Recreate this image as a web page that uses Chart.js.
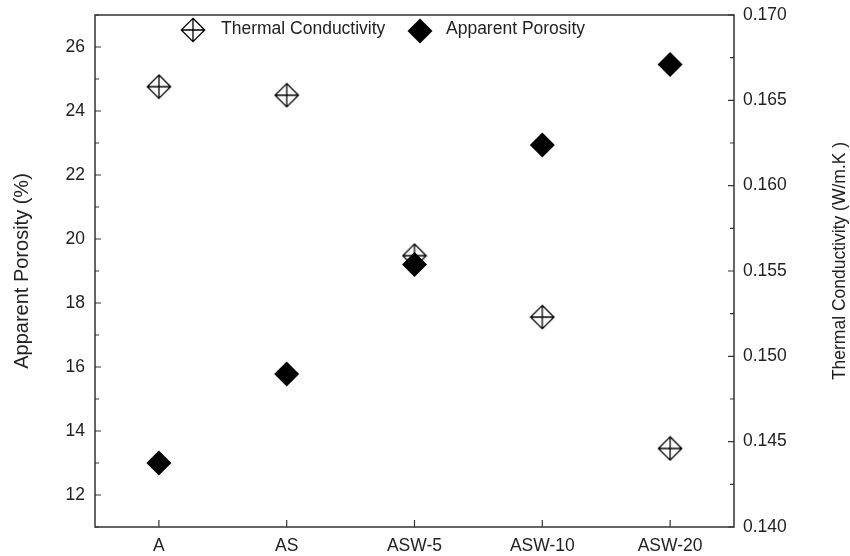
<!DOCTYPE html>
<html>
<head>
<meta charset="utf-8">
<script src="https://cdn.jsdelivr.net/npm/chart.js@4/dist/chart.umd.min.js"></script>
<style>
  html, body { margin: 0; padding: 0; background: #fff; }
  #wrap { width: 850px; height: 556px; }
</style>
</head>
<body>
<div id="wrap"><canvas id="c" width="850" height="556"></canvas></div>
<script>
// ---- data ----
const categories = ['A', 'AS', 'ASW-5', 'ASW-10', 'ASW-20'];
const apparentPorosity = [13.0, 15.78, 19.2, 22.94, 25.45];
const thermalConductivity = [0.1658, 0.1653, 0.1559, 0.1523, 0.1446];
const leftTicks = [12, 14, 16, 18, 20, 22, 24, 26];
const rightTicks = [0.140, 0.145, 0.150, 0.155, 0.160, 0.165, 0.170];
const leftTitle = 'Apparent Porosity (%)';
const rightTitle = 'Thermal Conductivity (W/m.K )';
const seriesNames = ['Thermal Conductivity', 'Apparent Porosity'];

const FONT = "'Liberation Sans', Arial, sans-serif";
const TXT = '#222';
const AXC = '#333';

function crossDiamond(size, lw) {
  const c = document.createElement('canvas');
  c.width = size; c.height = size;
  const g = c.getContext('2d');
  const h = size / 2, m = lw;
  g.strokeStyle = '#000';
  g.lineWidth = lw;
  g.beginPath();
  g.moveTo(h, m); g.lineTo(size - m, h); g.lineTo(h, size - m); g.lineTo(m, h); g.closePath();
  g.moveTo(m, h); g.lineTo(size - m, h);
  g.moveTo(h, m); g.lineTo(h, size - m);
  g.stroke();
  return c;
}
const openMarker = crossDiamond(26, 1.3);

const framePlugin = {
  id: 'frame',
  afterDraw(chart) {
    const { ctx, chartArea: a, scales } = chart;
    ctx.save();
    ctx.strokeStyle = AXC;
    ctx.lineWidth = 1.5;
    ctx.strokeRect(a.left, a.top, a.right - a.left, a.bottom - a.top);
    ctx.lineWidth = 1.2;
    ctx.beginPath();
    const yl = scales.y;
    leftTicks.forEach((v) => {
      const p = yl.getPixelForValue(v);
      ctx.moveTo(a.left, p); ctx.lineTo(a.left + 6, p);
    });
    for (let v = leftTicks[0] - 1; v <= 27; v += 2) {
      const p = yl.getPixelForValue(v);
      ctx.moveTo(a.left, p); ctx.lineTo(a.left + 4, p);
    }
    const yr = scales.y1;
    rightTicks.forEach((v, i) => {
      const p = yr.getPixelForValue(v);
      ctx.moveTo(a.right, p); ctx.lineTo(a.right - 6, p);
      if (i < rightTicks.length - 1) {
        const pm = yr.getPixelForValue((v + rightTicks[i + 1]) / 2);
        ctx.moveTo(a.right, pm); ctx.lineTo(a.right - 4, pm);
      }
    });
    const xs = scales.x;
    categories.forEach((c, i) => {
      const p = xs.getPixelForValue(i);
      ctx.moveTo(p, a.bottom); ctx.lineTo(p, a.bottom - 7);
    });
    ctx.stroke();

    // axis titles
    ctx.fillStyle = TXT;
    ctx.textAlign = 'center';
    ctx.textBaseline = 'middle';
    ctx.font = '20px ' + FONT;
    ctx.save();
    ctx.translate(22, (a.top + a.bottom) / 2);
    ctx.rotate(-Math.PI / 2);
    ctx.fillText(leftTitle, 0, 0);
    ctx.restore();
    ctx.font = '17.5px ' + FONT;
    ctx.save();
    ctx.translate(840, (a.top + a.bottom) / 2 - 10);
    ctx.rotate(-Math.PI / 2);
    ctx.fillText(rightTitle, 0, 0);
    ctx.restore();

    // legend
    ctx.font = '17.5px ' + FONT;
    ctx.textAlign = 'left';
    ctx.drawImage(openMarker, Math.round(a.left + 98 - 13), Math.round(a.top + 15 - 13));
    ctx.fillText(seriesNames[0], a.left + 126, a.top + 14);
    ctx.fillStyle = '#000';
    const cx = a.left + 325, cy = a.top + 16, r = 12.5;
    ctx.beginPath();
    ctx.moveTo(cx - r, cy); ctx.lineTo(cx, cy - r); ctx.lineTo(cx + r, cy); ctx.lineTo(cx, cy + r); ctx.closePath();
    ctx.fill();
    ctx.fillStyle = TXT;
    ctx.fillText(seriesNames[1], a.left + 351, a.top + 14);
    ctx.restore();
  }
};

new Chart(document.getElementById('c'), {
  type: 'scatter',
  data: {
    labels: categories,
    datasets: [
      {
        label: seriesNames[1],
        data: apparentPorosity,
        yAxisID: 'y',
        showLine: false,
        pointStyle: 'rectRot',
        pointRadius: 12.5,
        pointHoverRadius: 12.5,
        backgroundColor: '#000',
        borderColor: '#000',
        borderWidth: 0
      },
      {
        label: seriesNames[0],
        data: thermalConductivity,
        yAxisID: 'y1',
        showLine: false,
        pointStyle: openMarker,
        pointRadius: 13,
        pointHoverRadius: 13,
        backgroundColor: 'rgba(0,0,0,0)',
        borderColor: '#000'
      }
    ]
  },
  options: {
    responsive: false,
    animation: false,
    events: [],
    layout: { padding: { top: 15, left: 0, right: 0, bottom: 0 } },
    plugins: { legend: { display: false }, tooltip: { enabled: false }, title: { display: false } },
    scales: {
      x: {
        type: 'category',
        labels: categories,
        offset: true,
        grid: { display: false, drawTicks: false },
        border: { display: false },
        ticks: { color: TXT, font: { family: FONT, size: 17.5 }, padding: 9, maxRotation: 0, autoSkip: false },
        afterFit(s) { s.height = 29; s.paddingLeft = 0; s.paddingRight = 0; }
      },
      y: {
        type: 'linear',
        position: 'left',
        min: 11, max: 27,
        grid: { display: false, drawTicks: false },
        border: { display: false },
        ticks: { color: TXT, font: { family: FONT, size: 17.5 }, padding: 10 },
        afterBuildTicks(s) { s.ticks = leftTicks.map(v => ({ value: v })); },
        afterFit(s) { s.width = 95; s.paddingTop = 0; s.paddingBottom = 0; }
      },
      y1: {
        type: 'linear',
        position: 'right',
        min: 0.140, max: 0.170,
        grid: { display: false, drawTicks: false },
        border: { display: false },
        ticks: { color: TXT, font: { family: FONT, size: 17.5 }, padding: 9, callback: v => Number(v).toFixed(3) },
        afterBuildTicks(s) { s.ticks = rightTicks.map(v => ({ value: v })); },
        afterFit(s) { s.width = 116; s.paddingTop = 0; s.paddingBottom = 0; }
      }
    }
  },
  plugins: [framePlugin]
});
</script>
</body>
</html>
